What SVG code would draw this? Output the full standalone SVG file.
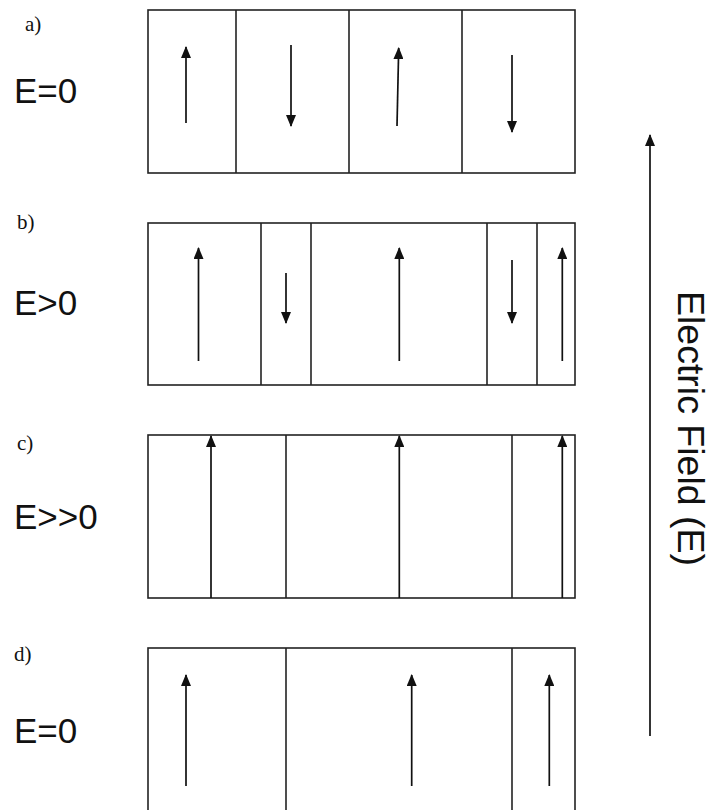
<svg xmlns="http://www.w3.org/2000/svg" width="714" height="810" viewBox="0 0 714 810">
  <style>
    .box { fill: none; stroke: #222; stroke-width: 1.6; }
    .wall { stroke: #222; stroke-width: 1.6; }
    .dip { stroke: #111; stroke-width: 1.7; fill: none; marker-end: url(#head); }
    .tag { font-family: "Liberation Serif", "Times New Roman", serif; font-size: 21px; fill: #111; }
    .cond { font-family: "Liberation Sans", Arial, sans-serif; font-size: 35px; fill: #111; }
    .axis { font-family: "Liberation Sans", Arial, sans-serif; font-size: 37.5px; fill: #111; }
  </style>
  <defs>
    <marker id="head" viewBox="0 0 12 10" refX="11" refY="5" markerWidth="12" markerHeight="10" markerUnits="userSpaceOnUse" orient="auto">
      <path d="M0,0 L12,5 L0,10 z" fill="#111"/>
    </marker>
  </defs>
  <rect width="714" height="810" fill="#fff"/>

  <!-- a) zero field: four domains, alternating polarization -->
  <g id="panel-a">
    <text class="tag" x="25" y="31">a)</text>
    <text class="cond" x="14" y="103">E=0</text>
    <rect class="box" x="148" y="10" width="427" height="163"/>
    <line class="wall" x1="236" y1="10" x2="236" y2="173"/>
    <line class="wall" x1="349" y1="10" x2="349" y2="173"/>
    <line class="wall" x1="462" y1="10" x2="462" y2="173"/>
  </g>

  <!-- b) weak field: up-domains grow -->
  <g id="panel-b">
    <text class="tag" x="17" y="229">b)</text>
    <text class="cond" x="14" y="315">E&gt;0</text>
    <rect class="box" x="148" y="223" width="427" height="162"/>
    <line class="wall" x1="261" y1="223" x2="261" y2="385"/>
    <line class="wall" x1="311" y1="223" x2="311" y2="385"/>
    <line class="wall" x1="487" y1="223" x2="487" y2="385"/>
    <line class="wall" x1="537" y1="223" x2="537" y2="385"/>
  </g>

  <!-- c) strong field: all domains aligned -->
  <g id="panel-c">
    <text class="tag" x="17" y="450">c)</text>
    <text class="cond" x="14" y="529">E&gt;&gt;0</text>
    <rect class="box" x="148" y="435" width="427" height="163"/>
    <line class="wall" x1="286" y1="435" x2="286" y2="598"/>
    <line class="wall" x1="512" y1="435" x2="512" y2="598"/>
  </g>

  <!-- d) field removed: remanent polarization -->
  <g id="panel-d">
    <text class="tag" x="14" y="661">d)</text>
    <text class="cond" x="14" y="743">E=0</text>
    <rect class="box" x="148" y="648" width="427" height="170"/>
    <line class="wall" x1="286" y1="648" x2="286" y2="810"/>
    <line class="wall" x1="512" y1="648" x2="512" y2="810"/>
  </g>

  <!-- field axis -->
  <g id="field-axis">
    <text class="axis" transform="translate(678,291) rotate(90)">Electric Field (E)</text>
  </g>

  <!-- polarization arrows -->
  <g id="connectors">
    <line class="dip" x1="186" y1="123" x2="186" y2="47"/>
    <line class="dip" x1="291" y1="45" x2="291" y2="126"/>
    <line class="dip" x1="397" y1="126" x2="398.7" y2="48"/>
    <line class="dip" x1="512" y1="55" x2="512" y2="132"/>

    <line class="dip" x1="198.5" y1="361" x2="198.5" y2="248"/>
    <line class="dip" x1="286" y1="273" x2="286" y2="323"/>
    <line class="dip" x1="399.3" y1="361" x2="399.3" y2="248"/>
    <line class="dip" x1="512" y1="260" x2="512" y2="323"/>
    <line class="dip" x1="562.3" y1="361" x2="562.3" y2="248"/>

    <line class="dip" x1="211" y1="598" x2="211" y2="436"/>
    <line class="dip" x1="399.3" y1="598" x2="399.3" y2="436"/>
    <line class="dip" x1="562.3" y1="598" x2="562.3" y2="436"/>

    <line class="dip" x1="186" y1="786" x2="186" y2="675"/>
    <line class="dip" x1="411.7" y1="786" x2="411.7" y2="675"/>
    <line class="dip" x1="549.3" y1="786" x2="549.3" y2="675"/>

    <line class="dip" x1="650" y1="736" x2="650" y2="135"/>
  </g>
</svg>
